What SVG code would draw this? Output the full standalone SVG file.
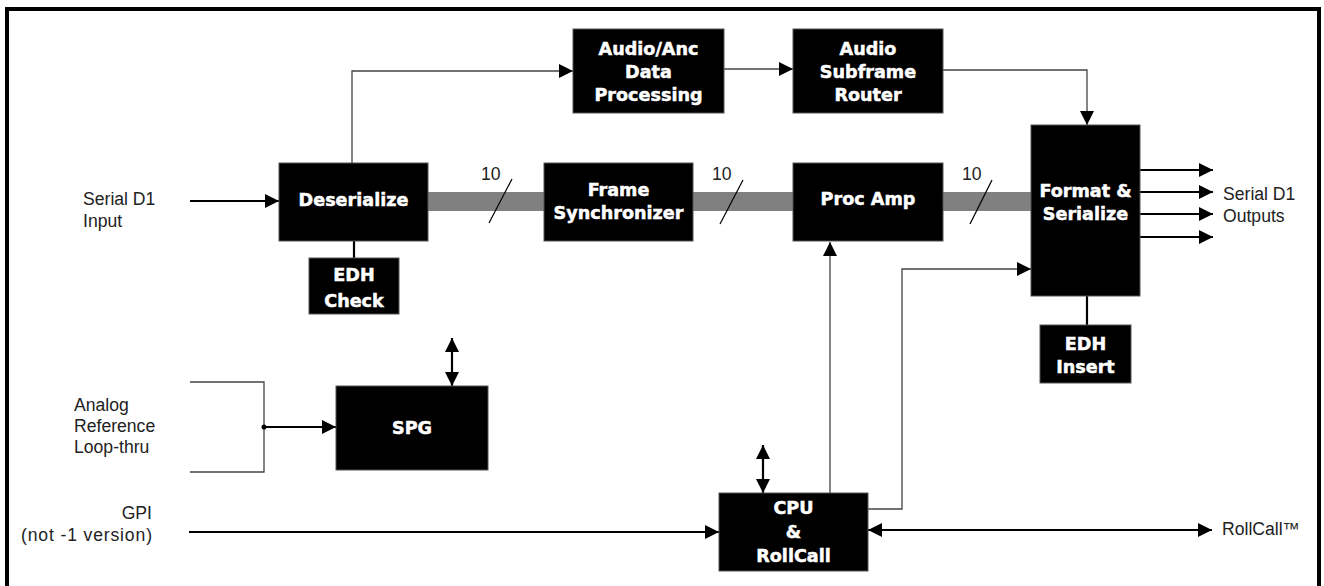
<svg xmlns="http://www.w3.org/2000/svg" width="1324" height="586" viewBox="0 0 1324 586">
  <style>
    .box { fill: #000; stroke: #555; stroke-width: 1; }
    .bt { font-family: "DejaVu Sans", "Liberation Sans", sans-serif; font-weight: bold; font-size: 17.6px; fill: #fff; stroke: #fff; stroke-width: 0.5; text-anchor: middle; }
    .lbl { font-family: "Liberation Sans", Arial, sans-serif; font-size: 17.6px; fill: #222; }
    .thin { fill: none; stroke: #444; stroke-width: 1.3; }
    .thick { fill: none; stroke: #000; stroke-width: 2.2; }
    .bus { fill: none; stroke: #808080; stroke-width: 19; }
    .slash { stroke: #000; stroke-width: 1.2; }
  </style>
  <defs>
    <marker id="ah" viewBox="0 0 14 14" refX="14" refY="7" markerWidth="14" markerHeight="14" markerUnits="userSpaceOnUse" orient="auto-start-reverse">
      <path d="M0,0 L14,7 L0,14 Z" fill="#000"/>
    </marker>
  </defs>

  <rect width="1324" height="586" fill="#fff"/>
  <!-- outer frame (bottom edge runs off the sheet) -->
  <rect x="7" y="9" width="1312" height="600" fill="none" stroke="#000" stroke-width="4"/>

  <!-- video bus and connectors -->
  <g id="connectors">
    <line class="bus" x1="428" y1="201.5" x2="1031" y2="201.5"/>
    <line class="slash" x1="489" y1="223" x2="512" y2="179"/>
    <line class="slash" x1="720" y1="224" x2="743" y2="180"/>
    <line class="slash" x1="970" y1="224" x2="992" y2="180"/>
    <text class="lbl" x="481" y="180">10</text>
    <text class="lbl" x="712" y="180">10</text>
    <text class="lbl" x="962" y="180">10</text>

    <!-- serial input -->
    <line class="thick" x1="190" y1="201" x2="279" y2="201" marker-end="url(#ah)"/>
    <!-- deserializer to audio/anc -->
    <polyline class="thin" points="352,163 352,71 573,71" marker-end="url(#ah)"/>
    <!-- audio/anc to router -->
    <line class="thin" x1="724" y1="69" x2="793" y2="69" marker-end="url(#ah)"/>
    <!-- router to format -->
    <polyline class="thin" points="943,70 1087,70 1087,125" marker-end="url(#ah)"/>
    <!-- EDH links -->
    <line class="thick" x1="354" y1="241" x2="354" y2="258"/>
    <line class="thick" x1="1087" y1="296" x2="1087" y2="325"/>
    <!-- serial outputs -->
    <line class="thick" x1="1140" y1="170" x2="1213" y2="170" marker-end="url(#ah)"/>
    <line class="thick" x1="1140" y1="192" x2="1213" y2="192" marker-end="url(#ah)"/>
    <line class="thick" x1="1140" y1="214" x2="1213" y2="214" marker-end="url(#ah)"/>
    <line class="thick" x1="1140" y1="237" x2="1213" y2="237" marker-end="url(#ah)"/>
    <!-- CPU to proc amp -->
    <line class="thin" x1="830" y1="493" x2="830" y2="242" marker-end="url(#ah)"/>
    <!-- CPU to format -->
    <polyline class="thin" points="868,509 902,509 902,269 1031,269" marker-end="url(#ah)"/>
    <!-- analog reference loop-thru -->
    <polyline class="thin" points="190,382 264,382 264,472 190,472"/>
    <circle cx="264" cy="427" r="2.5" fill="#000"/>
    <line class="thick" x1="264" y1="427" x2="336" y2="427" marker-end="url(#ah)"/>
    <!-- bidirectional ports -->
    <line class="thick" x1="452" y1="338" x2="452" y2="386" marker-start="url(#ah)" marker-end="url(#ah)"/>
    <line class="thick" x1="763" y1="445" x2="763" y2="493" marker-start="url(#ah)" marker-end="url(#ah)"/>
    <!-- GPI -->
    <line class="thick" x1="189" y1="532" x2="719" y2="532" marker-end="url(#ah)"/>
    <!-- RollCall network -->
    <line class="thick" x1="868" y1="530" x2="1212" y2="530" marker-start="url(#ah)" marker-end="url(#ah)"/>
  </g>

  <!-- external labels -->
  <g id="labels">
    <text class="lbl" x="83" y="205">Serial D1</text>
    <text class="lbl" x="83" y="227">Input</text>
    <text class="lbl" x="1223" y="200">Serial D1</text>
    <text class="lbl" x="1223" y="222">Outputs</text>
    <text class="lbl" x="74" y="411">Analog</text>
    <text class="lbl" x="74" y="432">Reference</text>
    <text class="lbl" x="74" y="453">Loop-thru</text>
    <text class="lbl" x="152" y="519" text-anchor="end">GPI</text>
    <text class="lbl" x="21" y="541" textLength="131" lengthAdjust="spacing">(not -1 version)</text>
    <text class="lbl" x="1222" y="535">RollCall™</text>
  </g>

  <g id="deserialize">
    <rect class="box" x="279" y="163" width="149" height="78"/>
    <text class="bt" x="353.5" y="206">Deserialize</text>
  </g>
  <g id="edh-check">
    <rect class="box" x="309" y="258" width="90" height="56"/>
    <text class="bt" x="354" y="281">EDH</text>
    <text class="bt" x="354" y="307">Check</text>
  </g>
  <g id="audio-anc">
    <rect class="box" x="573" y="29" width="151" height="84"/>
    <text class="bt" x="648.5" y="55">Audio/Anc</text>
    <text class="bt" x="648.5" y="78">Data</text>
    <text class="bt" x="648.5" y="101">Processing</text>
  </g>
  <g id="subframe-router">
    <rect class="box" x="793" y="29" width="150" height="84"/>
    <text class="bt" x="868" y="55">Audio</text>
    <text class="bt" x="868" y="78">Subframe</text>
    <text class="bt" x="868" y="101">Router</text>
  </g>
  <g id="frame-sync">
    <rect class="box" x="544" y="163" width="149" height="78"/>
    <text class="bt" x="618.5" y="196">Frame</text>
    <text class="bt" x="618.5" y="219">Synchronizer</text>
  </g>
  <g id="proc-amp">
    <rect class="box" x="793" y="163" width="150" height="78"/>
    <text class="bt" x="868" y="205">Proc Amp</text>
  </g>
  <g id="format-serialize">
    <rect class="box" x="1031" y="125" width="109" height="171"/>
    <text class="bt" x="1085.5" y="197">Format &amp;</text>
    <text class="bt" x="1085.5" y="220">Serialize</text>
  </g>
  <g id="edh-insert">
    <rect class="box" x="1040" y="325" width="91" height="58"/>
    <text class="bt" x="1085.5" y="350">EDH</text>
    <text class="bt" x="1085.5" y="373">Insert</text>
  </g>
  <g id="spg">
    <rect class="box" x="336" y="386" width="152" height="84"/>
    <text class="bt" x="412" y="434">SPG</text>
  </g>
  <g id="cpu">
    <rect class="box" x="719" y="493" width="149" height="78"/>
    <text class="bt" x="793.5" y="514">CPU</text>
    <text class="bt" x="793.5" y="538">&amp;</text>
    <text class="bt" x="793.5" y="562">RollCall</text>
  </g>
</svg>
